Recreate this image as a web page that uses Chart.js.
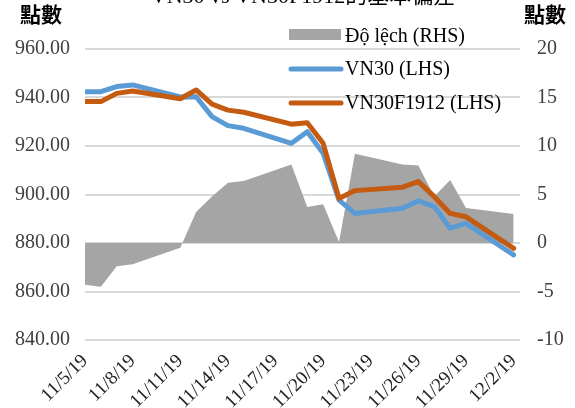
<!DOCTYPE html>
<html>
<head>
<meta charset="utf-8">
<script src="https://cdn.jsdelivr.net/npm/chart.js@4"></script>
<style>
  body { margin: 0; overflow: hidden; background: #fff; }
</style>
</head>
<body>
<canvas id="myChart" width="575" height="408"></canvas>
<script>
// trading days
let dates = ["2019-11-05", "2019-11-06", "2019-11-07", "2019-11-08", "2019-11-11", "2019-11-12",
    "2019-11-13", "2019-11-14", "2019-11-15", "2019-11-18", "2019-11-19", "2019-11-20",
    "2019-11-21", "2019-11-22", "2019-11-25", "2019-11-26", "2019-11-27", "2019-11-28",
    "2019-11-29", "2019-12-02"];
let vn30 = [942.4, 942.4, 944.5, 945.2, 940.2, 940.3, 932.1, 928.4, 927.3, 921.1,
    925.9, 917.0, 897.7, 892.2, 894.3, 897.4, 895.0, 886.1, 888.1, 875.1];
let vn30f = [938.3, 938.3, 941.7, 942.7, 939.5, 943.1, 937.3, 934.8, 933.9, 929.0,
    929.6, 921.1, 898.4, 901.6, 903.0, 905.3, 899.1, 892.2, 890.8, 877.8];
let deviation = [-4.3, -4.5, -2.4, -2.2, -0.5, 3.2, 4.8, 6.2, 6.4, 8.1,
    3.7, 4.0, 0.1, 9.2, 8.1, 8.0, 4.8, 6.5, 3.6, 3.0];
let tickLabels = ["11/5/19", "11/8/19", "11/11/19", "11/14/19", "11/17/19",
    "11/20/19", "11/23/19", "11/26/19", "11/29/19", "12/2/19"];
let seriesNames = ["Độ lệch (RHS)", "VN30 (LHS)", "VN30F1912 (LHS)"];
let title = "VN30 vs VN30F1912的基本偏差";
let axisTitle = "點數";

let serif = '"Liberation Serif", "Times New Roman", serif';
let cjk = '"Noto Sans CJK TC", sans-serif';

let day0 = Date.parse(dates[0]);
let dayOf = (d) => Math.round((Date.parse(d) - day0) / 86400000);
let points = (arr) => dates.map((d, i) => ({x: dayOf(d), y: arr[i]}));

// title (cut off at top), axis titles, legend
let extras = {
    id: "extras",
    afterDraw(chart) {
        let ctx = chart.ctx;
        ctx.save();
        ctx.fillStyle = "#000";
        ctx.textAlign = "center";
        ctx.textBaseline = "alphabetic";
        ctx.font = "22px " + serif + ", " + cjk;
        ctx.fillText(title, 303, 3);

        ctx.font = "bold 21px " + cjk;
        ctx.textBaseline = "middle";
        ctx.fillText(axisTitle, 41, 14);
        ctx.fillText(axisTitle, 545, 14);

        // legend
        let ds = chart.data.datasets;
        let rows = [36, 69, 103];
        ctx.textAlign = "left";
        ctx.font = "20px " + serif;
        ds.forEach((d, i) => {
            let y = rows[i];
            if (d.fill) {
                ctx.fillStyle = d.backgroundColor;
                ctx.fillRect(289, y - 7, 52, 11);
            } else {
                ctx.strokeStyle = d.borderColor;
                ctx.lineWidth = 5;
                ctx.lineCap = "round";
                ctx.beginPath();
                ctx.moveTo(291, y);
                ctx.lineTo(341, y);
                ctx.stroke();
            }
            ctx.fillStyle = "#000";
            ctx.fillText(d.label, 345, y + 1);
        });
        ctx.restore();
    }
};

let myChart = new Chart("myChart", {
    type: "line",
    data: {
        datasets: [
            {
                label: seriesNames[0],
                data: points(deviation),
                yAxisID: "y1",
                fill: "origin",
                backgroundColor: "#a5a5a5",
                borderWidth: 0,
                pointRadius: 0,
                order: 3
            },
            {
                label: seriesNames[1],
                data: points(vn30),
                yAxisID: "y",
                borderColor: "#5b9bd5",
                borderWidth: 5,
                borderCapStyle: "round",
                borderJoinStyle: "round",
                pointRadius: 0,
                fill: false,
                order: 2
            },
            {
                label: seriesNames[2],
                data: points(vn30f),
                yAxisID: "y",
                borderColor: "#c55a11",
                borderWidth: 5,
                borderCapStyle: "round",
                borderJoinStyle: "round",
                pointRadius: 0,
                fill: false,
                order: 1
            }
        ]
    },
    options: {
        responsive: false,
        animation: false,
        layout: {padding: {top: 49, left: 0, right: 0, bottom: 0}},
        plugins: {
            legend: {display: false},
            tooltip: {enabled: false},
            title: {display: false}
        },
        scales: {
            x: {
                type: "linear",
                min: 0,
                max: 27.4,
                grid: {display: false},
                border: {display: false},
                afterBuildTicks: (scale) => {
                    scale.ticks = tickLabels.map((t, i) => ({value: i * 3}));
                },
                afterFit: (scale) => { scale.height = 68; },
                ticks: {
                    autoSkip: false,
                    minRotation: 45,
                    maxRotation: 45,
                    padding: 2,
                    color: "#222",
                    font: {family: serif, size: 19},
                    callback: (value, index) => tickLabels[index]
                }
            },
            y: {
                position: "left",
                min: 840,
                max: 960,
                grid: {color: "#d9d9d9", lineWidth: 2, drawTicks: false},
                border: {display: false},
                afterFit: (scale) => { scale.width = 85; },
                ticks: {
                    stepSize: 20,
                    padding: 15,
                    color: "#404040",
                    font: {family: serif, size: 20},
                    callback: (v) => v.toFixed(2)
                }
            },
            y1: {
                position: "right",
                min: -10,
                max: 20,
                grid: {display: false, drawTicks: false},
                border: {display: false},
                afterFit: (scale) => { scale.width = 55; },
                ticks: {
                    stepSize: 5,
                    padding: 17,
                    color: "#404040",
                    font: {family: serif, size: 20}
                }
            }
        }
    },
    plugins: [extras]
});
</script>
</body>
</html>
